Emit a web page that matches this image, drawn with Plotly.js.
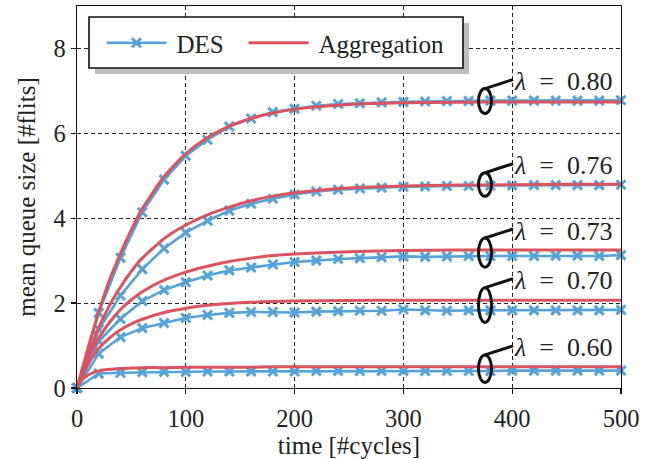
<!DOCTYPE html>
<html>
<head>
<meta charset="utf-8">
<script src="https://cdn.plot.ly/plotly-3.0.1.min.js"></script>
<style>
html,body{margin:0;padding:0;background:#fff;}
#chart{width:654px;height:459px;}
</style>
</head>
<body>
<div id="chart"></div>
<script>
// ---------- data ----------
const desX = [0,20,40,60,80,100,120,140,160,180,200,220,240,260,280,300,320,340,360,380,400,420,440,460,480,500];
const des80 = [0,1.77,3.07,4.14,4.91,5.47,5.85,6.16,6.35,6.50,6.58,6.65,6.69,6.71,6.73,6.74,6.75,6.76,6.76,6.77,6.77,6.77,6.77,6.77,6.77,6.78];
const des76 = [0,1.38,2.18,2.80,3.29,3.66,3.94,4.18,4.34,4.46,4.56,4.63,4.67,4.70,4.72,4.74,4.75,4.76,4.76,4.77,4.77,4.78,4.78,4.78,4.78,4.79];
const des73 = [0,1.10,1.63,2.05,2.31,2.49,2.65,2.77,2.84,2.91,2.97,3.00,3.04,3.06,3.08,3.10,3.09,3.10,3.11,3.11,3.11,3.11,3.12,3.12,3.11,3.13];
const des70 = [0,0.81,1.20,1.41,1.53,1.65,1.72,1.77,1.79,1.79,1.78,1.80,1.81,1.82,1.82,1.85,1.83,1.82,1.83,1.83,1.83,1.83,1.83,1.83,1.83,1.84];
const des60 = [0,0.34,0.36,0.37,0.38,0.38,0.39,0.39,0.39,0.39,0.39,0.40,0.40,0.40,0.40,0.40,0.40,0.40,0.40,0.40,0.41,0.41,0.41,0.41,0.41,0.41];

const aggX = [0,5,10,15,20,30,40,50,60,80,100,120,140,160,180,200,250,300,350,400,450,500];
const agg80 = [0,0.47,0.93,1.37,1.80,2.55,3.17,3.73,4.22,4.98,5.52,5.90,6.17,6.35,6.48,6.57,6.68,6.72,6.73,6.74,6.74,6.74];
const agg76 = [0,0.40,0.77,1.10,1.42,1.95,2.38,2.75,3.06,3.52,3.84,4.08,4.26,4.41,4.52,4.60,4.71,4.76,4.78,4.79,4.80,4.80];
const agg73 = [0,0.36,0.68,0.95,1.18,1.55,1.85,2.08,2.27,2.54,2.73,2.87,2.98,3.06,3.12,3.16,3.21,3.24,3.25,3.25,3.25,3.25];
const agg70 = [0,0.30,0.55,0.76,0.93,1.18,1.37,1.51,1.62,1.78,1.88,1.95,1.99,2.02,2.04,2.05,2.06,2.07,2.07,2.07,2.07,2.07];
const agg60 = [0,0.20,0.30,0.36,0.40,0.44,0.46,0.47,0.48,0.48,0.49,0.49,0.49,0.49,0.50,0.50,0.50,0.50,0.50,0.50,0.50,0.50];

const lambdaLabels = ['0.80','0.76','0.73','0.70','0.60'];
const desSeries = [des80, des76, des73, des70, des60];
const aggSeries = [agg80, agg76, agg73, agg70, agg60];

const xTicks = [0,100,200,300,400,500];
const yTicks = [0,2,4,6,8];
const legendNames = ['DES','Aggregation'];
const xTitle = 'time [#cycles]';
const yTitle = 'mean queue size [#flits]';

// ---------- style ----------
const BLUE = '#55a3d6';
const RED = '#d9545f';
const FONT = "'Liberation Serif', 'Times New Roman', serif";
const TXT = '#222';
const labelX = 375;
const M = {l:77, r:33, t:6, b:71};
const W = 654 - M.l - M.r;
const H = 459 - M.t - M.b;
const yRange = [0, 9];
const pxPerUnit = H / (yRange[1] - yRange[0]);
const px2paperX = p => (p - M.l) / W;
const px2paperY = p => 1 - (p - M.t) / H;

const traces = [];
desSeries.forEach((ys, i) => {
  traces.push({
    type:'scatter', mode:'lines+markers', x: desX, y: ys,
    name: '\u2009' + legendNames[0], legendgroup:'des', showlegend: i === 0,
    legendwidth: 67,
    line:{color:BLUE, width:2.6},
    marker:{symbol:'x-thin', size:9, color:BLUE, line:{color:BLUE, width:3}},
    cliponaxis:false
  });
});
aggSeries.forEach((ys, i) => {
  traces.push({
    type:'scatter', mode:'lines', x: aggX, y: ys,
    name: '\u2009' + legendNames[1], legendgroup:'agg', showlegend: i === 0,
    legendwidth: 140,
    line:{color:RED, width:3, shape:'spline', smoothing:0.6}
  });
});

const shapes = [];
const annotations = [];

// legend frame with drop shadow
const box = {l:89, r:463, t:17, b:68}, sh = 6;
shapes.push({type:'rect', xref:'paper', yref:'paper',
  x0:px2paperX(box.l+sh), x1:px2paperX(box.r+sh), y0:px2paperY(box.b+sh), y1:px2paperY(box.t+sh),
  fillcolor:'#bdbdc0', line:{width:0}, layer:'above'});
shapes.push({type:'rect', xref:'paper', yref:'paper',
  x0:px2paperX(box.l), x1:px2paperX(box.r), y0:px2paperY(box.b), y1:px2paperY(box.t),
  fillcolor:'#fff', line:{color:'#111', width:1.6}, layer:'above'});

lambdaLabels.forEach((lab, i) => {
  const d = desSeries[i][desSeries[i].length - 1];
  const a = aggSeries[i][aggSeries[i].length - 1];
  const c = (d + a) / 2;
  const h = 23 + Math.abs(a - d) * pxPerUnit * 1.2;
  shapes.push({
    type:'circle', xref:'x', yref:'y', xsizemode:'pixel', ysizemode:'pixel',
    xanchor: labelX, yanchor: c, x0:-6.5, x1:6.5, y0:-h/2, y1:h/2,
    line:{color:'#111', width:3}, layer:'above'
  });
  shapes.push({
    type:'path', xref:'x', yref:'y', xsizemode:'pixel', ysizemode:'pixel',
    xanchor: labelX, yanchor: c,
    path: `M 0,${h/2} L 28,${h/2 + 9}`,
    line:{color:'#111', width:3}, layer:'above'
  });
  annotations.push({
    x: labelX, y: c, xref:'x', yref:'y', xanchor:'left', yanchor:'middle',
    xshift: 27, yshift: h/2 + 7, showarrow:false,
    text: '<i>λ</i>\u2002=\u2002' + lab,
    font:{family:FONT, size:26, color:TXT}
  });
});

const axisCommon = {
  showline:true, linecolor:'#111', linewidth:1.4, mirror:true,
  ticks:'outside', ticklen:5, tickwidth:1.3, tickcolor:'#111',
  showgrid:true, gridcolor:'#222', gridwidth:1, griddash:'4px,3px',
  zeroline:false, tickfont:{family:FONT, size:24.5, color:TXT}
};

const layout = {
  width:654, height:459, margin:M,
  paper_bgcolor:'#fff', plot_bgcolor:'#fff',
  font:{family:FONT, size:25, color:TXT},
  showlegend:true,
  legend:{
    orientation:'h', x:px2paperX(101.5), y:px2paperY(43), xanchor:'left', yanchor:'middle',
    bgcolor:'rgba(0,0,0,0)', borderwidth:0,
    font:{family:FONT, size:25, color:TXT},
    itemwidth:60, traceorder:'normal'
  },
  xaxis: Object.assign({}, axisCommon, {
    range:[0,500], tickvals:xTicks, ticktext:xTicks.map(String), ticklabelstandoff:3,
    title:{text:xTitle, font:{family:FONT, size:25, color:TXT}, standoff:8}
  }),
  yaxis: Object.assign({}, axisCommon, {
    range:yRange, tickvals:yTicks, ticktext:yTicks.map(String),
    title:{text:yTitle, font:{family:FONT, size:25, color:TXT}, standoff:10}
  }),
  shapes: shapes,
  annotations: annotations
};

Plotly.newPlot('chart', traces, layout, {staticPlot:true, displayModeBar:false});
</script>
</body>
</html>
